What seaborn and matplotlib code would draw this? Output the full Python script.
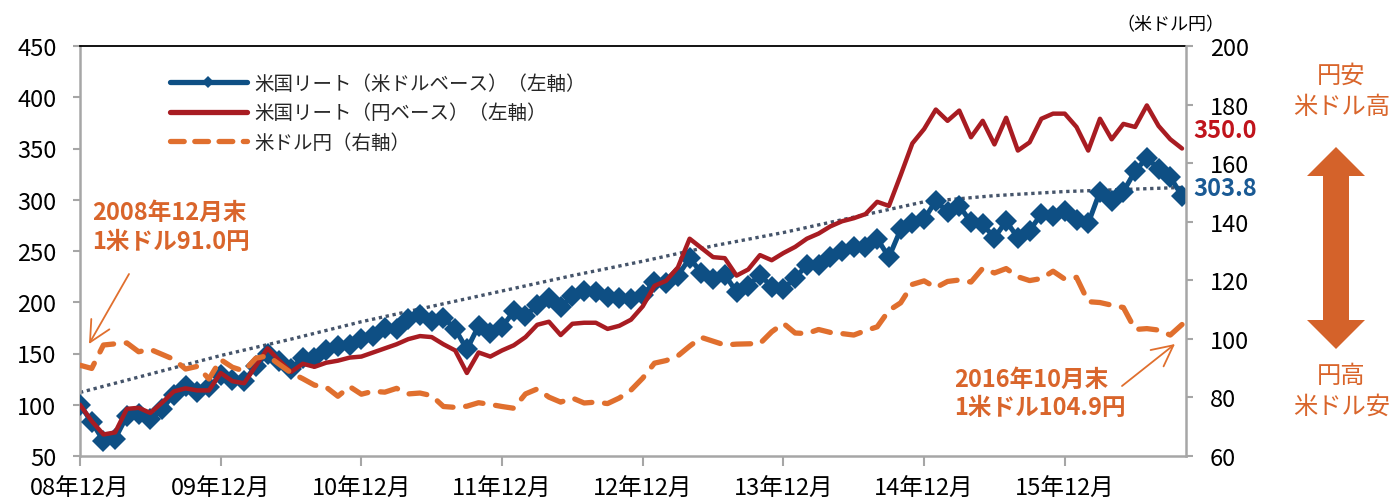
# US REIT index (USD / JPY based) vs USDJPY, 2008/12 - 2016/10

import numpy as np
import pandas as pd
import seaborn as sns
import matplotlib.pyplot as plt
from matplotlib.lines import Line2D
from matplotlib.patches import FancyArrow

# Data (monthly, 2008/12 = 0 ... 2016/10 = 94)

months = list(range(95))

reit_usd = [100, 83, 65, 67, 89, 91, 86, 96, 110, 118, 112, 117,
            129, 124, 123, 138, 150, 143, 135, 146, 146, 153, 157, 158,
            164, 167, 175, 174, 184, 188, 182, 185, 174, 154, 177, 170,
            176, 191, 187, 197, 204, 195, 206, 211, 210, 205, 204, 203,
            207, 220, 219, 226, 243, 229, 223, 227, 210, 216, 227, 215,
            213, 224, 236, 236, 244, 250, 254, 254, 262, 244, 271, 277,
            281, 299, 288, 294, 278, 276, 263, 279, 263, 270, 286, 284,
            289, 280, 277, 308, 299, 308, 328, 341, 330, 322, 303.8]

reit_jpy = [100, 84, 71, 73, 96, 97, 92, 102, 113, 116, 114, 114,
            131, 123, 121, 138, 155, 143, 132, 140, 137, 141, 143, 146,
            147, 151, 155, 159, 164, 167, 166, 159, 153, 131, 151, 147,
            153, 158, 166, 178, 181, 168, 179, 180, 180, 174, 177, 183,
            196, 216, 221, 234, 262, 253, 244, 243, 226, 232, 246, 241,
            248, 254, 262, 267, 274, 279, 282, 286, 298, 294, 324, 355,
            369, 388, 377, 387, 361, 377, 354, 380, 348, 356, 379, 384,
            384, 371, 348, 379, 359, 374, 371, 392, 372, 359, 350.0]

usdjpy = [91.0, 89.9, 97.9, 98.3, 98.6, 95.6, 96.4, 94.7, 93.0, 89.7, 90.6, 86.3,
          92.9, 90.3, 89.0, 93.4, 94.2, 91.3, 88.4, 86.4, 84.2, 83.5, 80.4, 83.7,
          81.1, 82.1, 81.8, 83.1, 81.2, 81.5, 80.6, 76.9, 76.6, 77.0, 78.2, 77.6,
          76.9, 76.3, 81.2, 82.9, 80.1, 78.4, 79.8, 78.1, 78.4, 77.9, 79.8, 82.5,
          86.6, 91.7, 92.6, 94.2, 97.5, 100.5, 99.2, 97.9, 98.2, 98.3, 98.4, 102.4,
          105.3, 102.0, 101.8, 103.2, 102.2, 101.8, 101.3, 102.8, 104.1, 109.7, 112.3, 118.6,
          119.8, 117.5, 119.6, 120.1, 119.4, 124.1, 122.5, 124.0, 121.2, 119.9, 120.6, 123.1,
          120.4, 121.0, 112.7, 112.4, 111.5, 110.7, 103.2, 103.5, 103.0, 101.3, 104.9]

# dotted trend line of the USD based index
trend_month = [0, 6, 12, 18, 24, 30, 36, 42, 48, 54, 60, 66, 72, 78, 84, 94]
trend_value = [112, 130, 148, 164, 181, 196, 211, 226, 240, 255, 268, 283, 298, 304, 308, 312]

x_tick_pos = [0, 12, 24, 36, 48, 60, 72, 84]
x_tick_labels = ["08年12月", "09年12月", "10年12月", "11年12月",
                 "12年12月", "13年12月", "14年12月", "15年12月"]

legend_labels = ["米国リート（米ドルベース）（左軸）", "米国リート（円ベース）（左軸）", "米ドル円（右軸）"]

df = pd.DataFrame({"month": months, "usd": reit_usd, "jpy": reit_jpy, "fx": usdjpy})

# Style

sns.set_theme(style="white")
plt.rcParams["font.family"] = ["Liberation Sans Narrow", "Noto Sans CJK JP", "DejaVu Sans"]

BLUE = "#0E4F84"
RED = "#A81C22"
ORANGE = "#E06F2E"
ANNO = "#D9652B"
TREND = "#45546A"
GRAY = "#A6A6A6"

W, H = 1393, 502
fig = plt.figure(figsize=(W / 100, H / 100), dpi=100)
ax = fig.add_axes([80 / W, 45 / H, 1106 / W, 410 / H])

# Left axis series

sns.lineplot(x=trend_month, y=trend_value, ax=ax, color=TREND, linewidth=2.4, zorder=2)
trend_line = ax.lines[-1]
trend_line.set_dashes([1, 1.1])
trend_line.set_dash_capstyle("butt")

sns.lineplot(data=df, x="month", y="usd", ax=ax, color=BLUE, linewidth=3.6,
             marker="D", markersize=11, markeredgewidth=0, zorder=3)
sns.lineplot(data=df, x="month", y="jpy", ax=ax, color=RED, linewidth=3.2, zorder=4)

# Right axis series

ax2 = ax.twinx()
sns.lineplot(data=df, x="month", y="fx", ax=ax2, color=ORANGE, linewidth=3.8)
fx_line = ax2.lines[-1]
fx_line.set_dashes([3.4, 2.4])
fx_line.set_dash_capstyle("round")

ax.set_xlim(0, 94.34)
ax.set_ylim(50, 450)
ax2.set_ylim(60, 200)
ax.set_yticks(range(50, 451, 50))
ax2.set_yticks(range(60, 201, 20))
ax.set_xticks(x_tick_pos, x_tick_labels)
for a in (ax, ax2):
    a.set_xlabel("")
    a.set_ylabel("")

ax.tick_params(axis="y", direction="out", length=5, width=1.5, color=GRAY,
               labelsize=17, pad=12, left=True, labelcolor="black")
ax.tick_params(axis="x", direction="out", length=7, width=1.5, color=GRAY,
               labelsize=17, pad=8, bottom=True, labelcolor="black")
ax2.tick_params(axis="y", direction="out", length=5, width=1.5, color=GRAY,
                labelsize=17, pad=12, right=True, labelcolor="black")

for s in ("left", "bottom"):
    ax.spines[s].set_color(GRAY)
    ax.spines[s].set_linewidth(1.8)
ax.spines["top"].set_color("black")
ax.spines["top"].set_linewidth(1.3)
ax.spines["right"].set_visible(False)
for s in ("left", "bottom", "top"):
    ax2.spines[s].set_visible(False)
ax2.spines["right"].set_color(GRAY)
ax2.spines["right"].set_linewidth(1.8)

# Legend

handles = [
    Line2D([], [], color=BLUE, lw=3.8, marker="D", markersize=6, markeredgewidth=0),
    Line2D([], [], color=RED, lw=3.8),
    Line2D([], [], color=ORANGE, lw=3.8, dashes=(2.6, 2.0), dash_capstyle="round"),
]
ax.legend(handles, legend_labels, loc="upper left", bbox_to_anchor=(0.081, 0.935),
          frameon=False, fontsize=14, handlelength=4.0, handletextpad=0.35,
          labelspacing=0.45, borderpad=0, borderaxespad=0)

# Annotations in pixel coordinates

ov = fig.add_axes([0, 0, 1, 1])
ov.set_xlim(0, W)
ov.set_ylim(H, 0)
ov.axis("off")

ov.text(1170, 25, "（米ドル円）", ha="center", va="center", fontsize=13, color="black")

bold = dict(fontsize=17, fontweight="bold", color=ANNO, ha="left", va="center")
ov.text(92, 213, "2008年12月末", **bold)
ov.text(92, 242, "1米ドル91.0円", **bold)
ov.text(954, 380, "2016年10月末", **bold)
ov.text(954, 408, "1米ドル104.9円", **bold)

arrow_style = dict(arrowstyle="->,head_length=0.6,head_width=0.3", color=ORANGE,
                   lw=1.3, mutation_scale=25, shrinkA=0, shrinkB=0)
ov.annotate("", xy=(89, 345), xytext=(129, 275), arrowprops=arrow_style)
ov.annotate("", xy=(1175, 345), xytext=(1122, 387), arrowprops=arrow_style)

ov.text(1225, 131, "350.0", ha="center", va="center", fontsize=17,
        fontweight="bold", color="#C0141C")
ov.text(1225, 189, "303.8", ha="center", va="center", fontsize=17,
        fontweight="bold", color="#1A5A94")

side = dict(fontsize=17.5, color=ANNO, ha="center", va="center")
ov.text(1341, 76, "円安", **side)
ov.text(1342, 107, "米ドル高", **side)
ov.text(1341, 376, "円高", **side)
ov.text(1342, 407, "米ドル安", **side)

mid = 249
for tip in (148, 350):
    ov.add_patch(FancyArrow(1336, mid, 0, tip - mid, width=26, head_width=58,
                            head_length=29, length_includes_head=True,
                            color="#D4622A", lw=0))

fig.savefig("out.png", dpi=100)
